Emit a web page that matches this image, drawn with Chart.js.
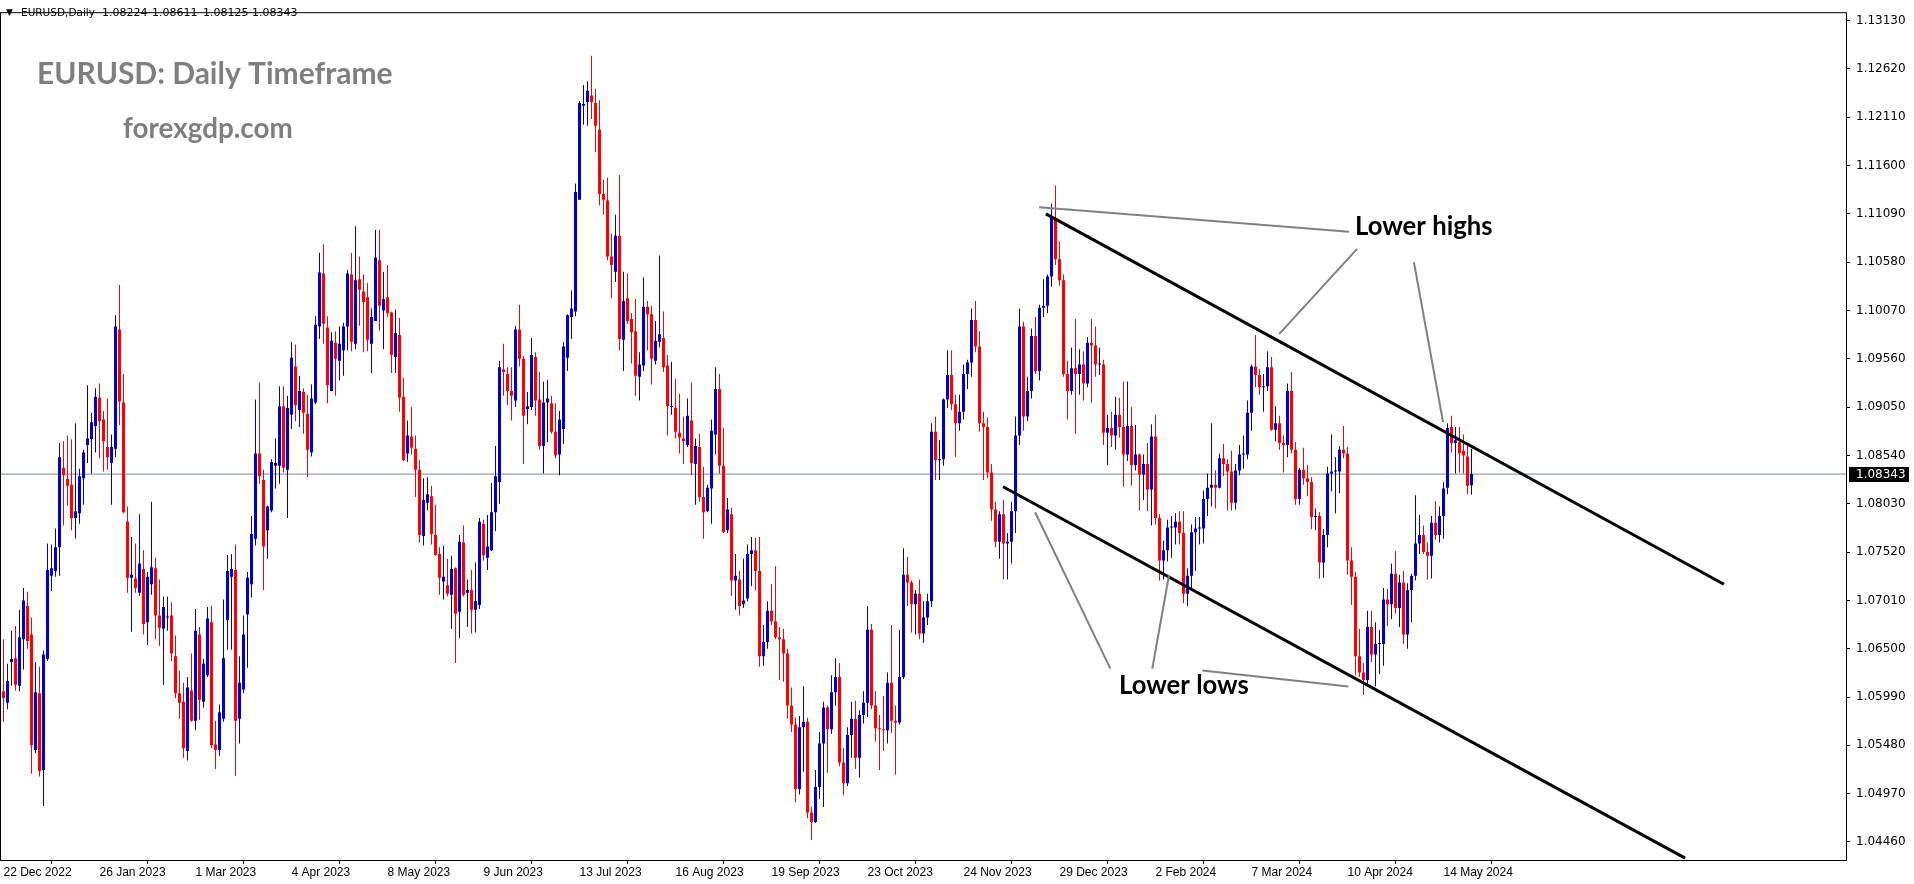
<!DOCTYPE html>
<html>
<head>
<meta charset="utf-8">
<script src="https://cdn.jsdelivr.net/npm/chart.js@4.4.1/dist/chart.umd.min.js"></script>
<style>
  html, body { margin: 0; padding: 0; background: #fff; }
</style>
</head>
<body>
<canvas id="chart" width="1914" height="884"></canvas>
<script>
// EURUSD daily candles, one per bar index (0 = 22 Dec 2022, 367 = 23 May 2024)
const opens = [
  1.0605, 1.0593, 1.0636, 1.0640, 1.0611, 1.0660, 1.0695, 1.0665, 1.0543, 1.0603,
  1.0522, 1.0639, 1.0727, 1.0732, 1.0757, 1.0841, 1.0829, 1.0823, 1.0788, 1.0793,
  1.0830, 1.0865, 1.0871, 1.0885, 1.0915, 1.0892, 1.0863, 1.0846, 1.0861, 1.0987,
  1.0910, 1.0784, 1.0725, 1.0724, 1.0709, 1.0734, 1.0678, 1.0718, 1.0735, 1.0685,
  1.0671, 1.0683, 1.0685, 1.0642, 1.0603, 1.0594, 1.0542, 1.0606, 1.0574, 1.0665,
  1.0594, 1.0622, 1.0678, 1.0549, 1.0543, 1.0576, 1.0680, 1.0726, 1.0733, 1.0576,
  1.0607, 1.0686, 1.0718, 1.0766, 1.0856, 1.0828, 1.0775, 1.0796, 1.0843, 1.0843,
  1.0906, 1.0839, 1.0897, 1.0948, 1.0902, 1.0921, 1.0898, 1.0857, 1.0910, 1.0990,
  1.1046, 1.0989, 1.0922, 1.0973, 1.0954, 1.0965, 1.0990, 1.1045, 1.0972, 1.1040,
  1.1027, 1.1021, 1.0972, 1.0996, 1.1060, 1.1007, 1.1021, 1.1005, 1.0958, 1.0981,
  1.0916, 1.0856, 1.0874, 1.0861, 1.0839, 1.0769, 1.0804, 1.0811, 1.0770, 1.0750,
  1.0721, 1.0717, 1.0707, 1.0735, 1.0689, 1.0762, 1.0709, 1.0712, 1.0691, 1.0696,
  1.0782, 1.0746, 1.0754, 1.0794, 1.0826, 1.0945, 1.0940, 1.0922, 1.0912, 1.0987,
  1.0956, 1.0903, 1.0905, 1.0958, 1.0913, 1.0864, 1.0910, 1.0909, 1.0879, 1.0855,
  1.0882, 1.0957, 1.1000, 1.1006, 1.1124, 1.1223, 1.1227, 1.1234, 1.1226, 1.1198,
  1.1130, 1.1123, 1.1064, 1.1048, 1.1086, 1.0976, 1.1020, 1.0998, 1.0985, 1.0937,
  1.0949, 1.1011, 1.1003, 1.0954, 1.0974, 1.0978, 1.0949, 1.0905, 1.0904, 1.0878,
  1.0872, 1.0865, 1.0891, 1.0845, 1.0863, 1.0810, 1.0795, 1.0819, 1.0876, 1.0924,
  1.0843, 1.0775, 1.0792, 1.0722, 1.0723, 1.0697, 1.0703, 1.0750, 1.0754, 1.0732,
  1.0642, 1.0657, 1.0690, 1.0679, 1.0662, 1.0660, 1.0645, 1.0590, 1.0570, 1.0502,
  1.0567, 1.0573, 1.0477, 1.0467, 1.0504, 1.0550, 1.0588, 1.0565, 1.0604, 1.0620,
  1.0530, 1.0508, 1.0559, 1.0576, 1.0535, 1.0580, 1.0593, 1.0670, 1.0590, 1.0566,
  1.0565, 1.0564, 1.0614, 1.0574, 1.0572, 1.0620, 1.0728, 1.0720, 1.0697, 1.0708,
  1.0666, 1.0683, 1.0700, 1.0879, 1.0849, 1.0850, 1.0913, 1.0939, 1.0908, 1.0888,
  1.0900, 1.0940, 1.0952, 1.0997, 1.0969, 1.0888, 1.0884, 1.0836, 1.0797, 1.0763,
  1.0792, 1.0761, 1.0763, 1.0795, 1.0875, 1.0990, 1.0895, 1.0922, 1.0980, 1.0943,
  1.1010, 1.1012, 1.1043, 1.1105, 1.1061, 1.1039, 1.0940, 1.0922, 1.0946, 1.0940,
  1.0950, 1.0930, 1.0973, 1.0970, 1.0950, 1.0950, 1.0878, 1.0883, 1.0875, 1.0897,
  1.0884, 1.0855, 1.0885, 1.0844, 1.0855, 1.0834, 1.0845, 1.0818, 1.0874, 1.0788,
  1.0743, 1.0754, 1.0778, 1.0778, 1.0784, 1.0772, 1.0708, 1.0727, 1.0773, 1.0777,
  1.0777, 1.0808, 1.0820, 1.0823, 1.0820, 1.0851, 1.0845, 1.0837, 1.0804, 1.0838,
  1.0855, 1.0855, 1.0899, 1.0948, 1.0939, 1.0926, 1.0927, 1.0947, 1.0881, 1.0888,
  1.0867, 1.0865, 1.0922, 1.0860, 1.0808, 1.0839, 1.0830, 1.0826, 1.0789, 1.0790,
  1.0741, 1.0770, 1.0835, 1.0837, 1.0837, 1.0860, 1.0856, 1.0743, 1.0726, 1.0642,
  1.0625, 1.0617, 1.0673, 1.0644, 1.0655, 1.0655, 1.0702, 1.0697, 1.0729, 1.0693,
  1.0720, 1.0665, 1.0712, 1.0727, 1.0761, 1.0770, 1.0752, 1.0748, 1.0783, 1.0770,
  1.0790, 1.0820, 1.0884, 1.0867, 1.0868, 1.0859, 1.0853, 1.08224
];
const highs = [
  1.0660, 1.0634, 1.0669, 1.0674, 1.0691, 1.0714, 1.0710, 1.0683, 1.0636, 1.0631,
  1.0648, 1.0761, 1.0760, 1.0777, 1.0867, 1.0869, 1.0875, 1.0871, 1.0888, 1.0840,
  1.0860, 1.0928, 1.0899, 1.0925, 1.0930, 1.0901, 1.0914, 1.0876, 1.1002, 1.1034,
  1.0940, 1.0800, 1.0768, 1.0761, 1.0792, 1.0754, 1.0731, 1.0805, 1.0746, 1.0723,
  1.0705, 1.0705, 1.0699, 1.0664, 1.0627, 1.0614, 1.0620, 1.0645, 1.0692, 1.0673,
  1.0639, 1.0694, 1.0695, 1.0574, 1.0591, 1.0702, 1.0749, 1.0750, 1.0760, 1.0642,
  1.0685, 1.0731, 1.0790, 1.0913, 1.0931, 1.0839, 1.0801, 1.0850, 1.0872, 1.0927,
  1.0927, 1.0917, 1.0974, 1.0971, 1.0938, 1.0925, 1.0918, 1.0929, 1.1001, 1.1068,
  1.1077, 1.1001, 1.0984, 1.0985, 1.0990, 1.0994, 1.1050, 1.1068, 1.1096, 1.1064,
  1.1045, 1.1036, 1.1009, 1.1092, 1.1092, 1.1048, 1.1055, 1.1006, 1.1008, 1.0999,
  1.0936, 1.0891, 1.0905, 1.0875, 1.0849, 1.0830, 1.0831, 1.0822, 1.0802, 1.0757,
  1.0759, 1.0745, 1.0748, 1.0736, 1.0770, 1.0780, 1.0723, 1.0733, 1.0741, 1.0788,
  1.0786, 1.0791, 1.0825, 1.0864, 1.0954, 1.0972, 1.0947, 1.0947, 1.0991, 1.1013,
  1.0959, 1.0921, 1.0978, 1.0963, 1.0942, 1.0932, 1.0934, 1.0917, 1.0909, 1.0901,
  1.0974, 1.1003, 1.1028, 1.1141, 1.1228, 1.1245, 1.1249, 1.1276, 1.1241, 1.1229,
  1.1145, 1.1147, 1.1088, 1.1108, 1.1150, 1.1048, 1.1046, 1.1004, 1.1019, 1.0963,
  1.1042, 1.1017, 1.1012, 1.0996, 1.1065, 1.1006, 1.0960, 1.0953, 1.0935, 1.0919,
  1.0895, 1.0914, 1.0931, 1.0872, 1.0877, 1.0842, 1.0823, 1.0892, 1.0947, 1.0940,
  1.0883, 1.0809, 1.0799, 1.0750, 1.0732, 1.0745, 1.0760, 1.0768, 1.0767, 1.0768,
  1.0675, 1.0700, 1.0718, 1.0737, 1.0673, 1.0671, 1.0650, 1.0609, 1.0577, 1.0579,
  1.0610, 1.0577, 1.0483, 1.0522, 1.0562, 1.0594, 1.0590, 1.0622, 1.0640, 1.0635,
  1.0545, 1.0567, 1.0594, 1.0595, 1.0585, 1.0605, 1.0695, 1.0676, 1.0605, 1.0580,
  1.0600, 1.0625, 1.0675, 1.0590, 1.0670, 1.0756, 1.0747, 1.0722, 1.0712, 1.0723,
  1.0700, 1.0708, 1.0888, 1.0895, 1.0870, 1.0914, 1.0965, 1.0965, 1.0918, 1.0918,
  1.0950, 1.0955, 1.1009, 1.1017, 1.0985, 1.0900, 1.0894, 1.0845, 1.0805, 1.0795,
  1.0807, 1.0772, 1.0805, 1.0895, 1.1009, 1.0995, 1.0937, 1.0988, 1.1000, 1.1013,
  1.1040, 1.1045, 1.1120, 1.1139, 1.1080, 1.1045, 1.0954, 1.0968, 1.0998, 1.0966,
  1.0964, 1.0979, 1.0998, 1.0990, 1.0968, 1.0955, 1.0897, 1.0900, 1.0916, 1.0915,
  1.0932, 1.0932, 1.0905, 1.0886, 1.0856, 1.0855, 1.0867, 1.0887, 1.0897, 1.0792,
  1.0764, 1.0786, 1.0790, 1.0793, 1.0795, 1.0795, 1.0735, 1.0781, 1.0789, 1.0789,
  1.0817, 1.0835, 1.0888, 1.0838, 1.0856, 1.0866, 1.0850, 1.0859, 1.0845, 1.0865,
  1.0875, 1.0912, 1.0950, 1.0981, 1.0945, 1.0940, 1.0964, 1.0958, 1.0906, 1.0896,
  1.0875, 1.0930, 1.0942, 1.0868, 1.0841, 1.0862, 1.0844, 1.0831, 1.0798, 1.0794,
  1.0776, 1.0842, 1.0876, 1.0852, 1.0864, 1.0885, 1.0863, 1.0757, 1.0731, 1.0671,
  1.0635, 1.0690, 1.0690, 1.0678, 1.0670, 1.0714, 1.0713, 1.0740, 1.0753, 1.0728,
  1.0732, 1.0719, 1.0729, 1.0812, 1.0791, 1.0780, 1.0762, 1.0790, 1.0806, 1.0800,
  1.0826, 1.0888, 1.0896, 1.0884, 1.0884, 1.0876, 1.0865, 1.08611
];
const lows = [
  1.0573, 1.0586, 1.0611, 1.0606, 1.0605, 1.0628, 1.0650, 1.0518, 1.0540, 1.0515,
  1.0484, 1.0637, 1.0711, 1.0726, 1.0727, 1.0780, 1.0801, 1.0775, 1.0766, 1.0782,
  1.0802, 1.0846, 1.0835, 1.0857, 1.0851, 1.0837, 1.0839, 1.0802, 1.0852, 1.0886,
  1.0793, 1.0709, 1.0668, 1.0709, 1.0706, 1.0665, 1.0654, 1.0707, 1.0660, 1.0653,
  1.0612, 1.0669, 1.0637, 1.0598, 1.0576, 1.0535, 1.0532, 1.0573, 1.0564, 1.0575,
  1.0588, 1.0620, 1.0545, 1.0523, 1.0537, 1.0573, 1.0649, 1.0649, 1.0516, 1.0550,
  1.0603, 1.0630, 1.0704, 1.0759, 1.0824, 1.0712, 1.0745, 1.0794, 1.0819, 1.0824,
  1.0836, 1.0788, 1.0882, 1.0890, 1.0884, 1.0877, 1.0831, 1.0853, 1.0908, 1.0977,
  1.0972, 1.0909, 1.0922, 1.0917, 1.0933, 1.0938, 1.0965, 1.0964, 1.0966, 1.0991,
  1.0963, 1.0964, 1.0941, 1.0996, 1.0986, 1.0966, 1.1000, 1.0941, 1.0941, 1.0900,
  1.0848, 1.0847, 1.0855, 1.0810, 1.0762, 1.0759, 1.0796, 1.0760, 1.0748, 1.0707,
  1.0702, 1.0705, 1.0671, 1.0635, 1.0661, 1.0705, 1.0673, 1.0666, 1.0667, 1.0692,
  1.0743, 1.0733, 1.0753, 1.0774, 1.0803, 1.0917, 1.0907, 1.0891, 1.0905, 1.0948,
  1.0845, 1.0887, 1.0902, 1.0896, 1.0860, 1.0835, 1.0868, 1.0877, 1.0851, 1.0833,
  1.0866, 1.0943, 1.0977, 1.1001, 1.1124, 1.1203, 1.1202, 1.1209, 1.1174, 1.1118,
  1.1108, 1.1060, 1.1020, 1.1037, 1.0965, 1.0943, 1.0993, 1.0951, 1.0917, 1.0912,
  1.0943, 1.0965, 1.0929, 1.0950, 1.0968, 1.0942, 1.0875, 1.0897, 1.0872, 1.0856,
  1.0845, 1.0863, 1.0833, 1.0802, 1.0805, 1.0766, 1.0794, 1.0782, 1.0855, 1.0835,
  1.0772, 1.0772, 1.0706, 1.0691, 1.0685, 1.0693, 1.0700, 1.0716, 1.0712, 1.0631,
  1.0632, 1.0650, 1.0675, 1.0660, 1.0617, 1.0615, 1.0576, 1.0562, 1.0488, 1.0496,
  1.0520, 1.0471, 1.0448, 1.0466, 1.0491, 1.0483, 1.0519, 1.0560, 1.0590, 1.0526,
  1.0495, 1.0505, 1.0535, 1.0523, 1.0514, 1.0571, 1.0578, 1.0586, 1.0552, 1.0522,
  1.0542, 1.0550, 1.0561, 1.0517, 1.0570, 1.0618, 1.0695, 1.0667, 1.0665, 1.0660,
  1.0656, 1.0675, 1.0694, 1.0828, 1.0828, 1.0843, 1.0904, 1.0902, 1.0852, 1.0880,
  1.0892, 1.0924, 1.0937, 1.0963, 1.0879, 1.0828, 1.0830, 1.0785, 1.0757, 1.0745,
  1.0723, 1.0723, 1.0740, 1.0772, 1.0865, 1.0880, 1.0890, 1.0914, 1.0940, 1.0933,
  1.1000, 1.1004, 1.1032, 1.1055, 1.1033, 1.0937, 1.0892, 1.0918, 1.0877, 1.0918,
  1.0912, 1.0926, 1.0910, 1.0937, 1.0939, 1.0865, 1.0844, 1.0863, 1.0860, 1.0873,
  1.0821, 1.0848, 1.0822, 1.0838, 1.0796, 1.0807, 1.0795, 1.0780, 1.0781, 1.0722,
  1.0723, 1.0742, 1.0746, 1.0760, 1.0760, 1.0698, 1.0695, 1.0713, 1.0732, 1.0760,
  1.0761, 1.0790, 1.0800, 1.0798, 1.0819, 1.0832, 1.0796, 1.0796, 1.0797, 1.0833,
  1.0840, 1.0850, 1.0880, 1.0926, 1.0918, 1.0900, 1.0922, 1.0880, 1.0869, 1.0860,
  1.0836, 1.0852, 1.0856, 1.0802, 1.0802, 1.0823, 1.0811, 1.0776, 1.0775, 1.0724,
  1.0725, 1.0757, 1.0816, 1.0793, 1.0814, 1.0851, 1.0728, 1.0696, 1.0622, 1.0620,
  1.0601, 1.0610, 1.0636, 1.0610, 1.0623, 1.0632, 1.0674, 1.0681, 1.0687, 1.0673,
  1.0655, 1.0650, 1.0678, 1.0722, 1.0750, 1.0750, 1.0723, 1.0724, 1.0765, 1.0762,
  1.0766, 1.0813, 1.0857, 1.0835, 1.0836, 1.0835, 1.0813, 1.08125
];
const closes = [
  1.0598, 1.0616, 1.0639, 1.0612, 1.0662, 1.0701, 1.0658, 1.0548, 1.0604, 1.0521,
  1.0644, 1.0733, 1.0735, 1.0757, 1.0852, 1.0833, 1.0822, 1.0788, 1.0795, 1.0832,
  1.0857, 1.0872, 1.0889, 1.0916, 1.0890, 1.0869, 1.0852, 1.0863, 1.0990, 1.0911,
  1.0794, 1.0725, 1.0728, 1.0714, 1.0740, 1.0676, 1.0726, 1.0736, 1.0685, 1.0672,
  1.0694, 1.0684, 1.0645, 1.0603, 1.0593, 1.0545, 1.0609, 1.0574, 1.0669, 1.0596,
  1.0634, 1.0682, 1.0548, 1.0543, 1.0583, 1.0640, 1.0732, 1.0734, 1.0574, 1.0614,
  1.0665, 1.0725, 1.0771, 1.0856, 1.0832, 1.0758, 1.0800, 1.0847, 1.0846, 1.0906,
  1.0841, 1.0904, 1.0957, 1.0907, 1.0922, 1.0899, 1.0860, 1.0914, 1.0992, 1.1047,
  1.0993, 1.0928, 1.0975, 1.0956, 1.0972, 1.0990, 1.1046, 1.0974, 1.1039, 1.1029,
  1.1016, 1.0976, 1.1000, 1.1063, 1.1012, 1.1019, 1.1004, 1.0960, 1.0983, 1.0915,
  1.0849, 1.0875, 1.0862, 1.0839, 1.0770, 1.0807, 1.0813, 1.0771, 1.0749, 1.0725,
  1.0726, 1.0708, 1.0734, 1.0687, 1.0763, 1.0707, 1.0712, 1.0691, 1.0700, 1.0784,
  1.0749, 1.0758, 1.0794, 1.0832, 1.0947, 1.0942, 1.0922, 1.0917, 1.0987, 1.0956,
  1.0896, 1.0906, 1.0960, 1.0912, 1.0864, 1.0910, 1.0914, 1.0879, 1.0854, 1.0892,
  1.0969, 1.1002, 1.1009, 1.1132, 1.1226, 1.1225, 1.1239, 1.1227, 1.1202, 1.1130,
  1.1124, 1.1064, 1.1055, 1.1086, 1.0977, 1.1017, 1.0996, 1.0984, 1.0938, 1.0950,
  1.1011, 1.1003, 1.0956, 1.0975, 1.0982, 1.0947, 1.0906, 1.0906, 1.0879, 1.0873,
  1.0869, 1.0896, 1.0846, 1.0864, 1.0810, 1.0794, 1.0820, 1.0880, 1.0924, 1.0843,
  1.0773, 1.0797, 1.0722, 1.0727, 1.0695, 1.0701, 1.0750, 1.0754, 1.0732, 1.0642,
  1.0657, 1.0690, 1.0679, 1.0662, 1.0660, 1.0645, 1.0590, 1.0570, 1.0502, 1.0567,
  1.0573, 1.0477, 1.0467, 1.0504, 1.0550, 1.0588, 1.0565, 1.0604, 1.0620, 1.0530,
  1.0508, 1.0559, 1.0576, 1.0535, 1.0580, 1.0593, 1.0670, 1.0590, 1.0566, 1.0565,
  1.0564, 1.0614, 1.0574, 1.0572, 1.0620, 1.0728, 1.0720, 1.0697, 1.0708, 1.0666,
  1.0683, 1.0700, 1.0879, 1.0849, 1.0850, 1.0913, 1.0939, 1.0908, 1.0888, 1.0900,
  1.0940, 1.0952, 1.0997, 1.0969, 1.0888, 1.0884, 1.0836, 1.0797, 1.0763, 1.0792,
  1.0761, 1.0763, 1.0795, 1.0875, 1.0990, 1.0895, 1.0922, 1.0980, 1.0943, 1.1010,
  1.1012, 1.1043, 1.1105, 1.1061, 1.1039, 1.0940, 1.0922, 1.0946, 1.0940, 1.0950,
  1.0930, 1.0973, 1.0970, 1.0950, 1.0950, 1.0878, 1.0883, 1.0875, 1.0897, 1.0884,
  1.0855, 1.0885, 1.0844, 1.0855, 1.0834, 1.0845, 1.0818, 1.0874, 1.0788, 1.0743,
  1.0754, 1.0778, 1.0778, 1.0784, 1.0772, 1.0708, 1.0727, 1.0773, 1.0777, 1.0777,
  1.0808, 1.0820, 1.0823, 1.0820, 1.0851, 1.0845, 1.0837, 1.0804, 1.0838, 1.0855,
  1.0855, 1.0899, 1.0948, 1.0939, 1.0926, 1.0927, 1.0947, 1.0881, 1.0888, 1.0867,
  1.0865, 1.0922, 1.0860, 1.0808, 1.0839, 1.0830, 1.0826, 1.0789, 1.0790, 1.0741,
  1.0770, 1.0835, 1.0837, 1.0837, 1.0860, 1.0856, 1.0743, 1.0726, 1.0642, 1.0625,
  1.0617, 1.0673, 1.0644, 1.0655, 1.0655, 1.0702, 1.0697, 1.0729, 1.0693, 1.0720,
  1.0665, 1.0712, 1.0727, 1.0761, 1.0770, 1.0752, 1.0748, 1.0783, 1.0770, 1.0790,
  1.0819, 1.0883, 1.0867, 1.0870, 1.0856, 1.0854, 1.0822, 1.08343
];

// one date label every 24 bars
const dateLabels = [
  '22 Dec 2022', '26 Jan 2023', '1 Mar 2023', '4 Apr 2023', '8 May 2023', '9 Jun 2023',
  '13 Jul 2023', '16 Aug 2023', '19 Sep 2023', '23 Oct 2023', '24 Nov 2023', '29 Dec 2023',
  '2 Feb 2024', '7 Mar 2024', '10 Apr 2024', '14 May 2024'
];
const priceTicks = [
  1.13130, 1.12620, 1.12110, 1.11600, 1.11090, 1.10580, 1.10070, 1.09560, 1.09050,
  1.08540, 1.08030, 1.07520, 1.07010, 1.06500, 1.05990, 1.05480, 1.04970, 1.04460
];
const lastQuote = [1.08224, 1.08611, 1.08125, 1.08343]; // O H L C shown in the header
const bidPrice = 1.08343;

// drawn trend lines: [bar index, price]
const upperChannel = [[260.6, 1.1109], [430.1, 1.0718]];
const lowerChannel = [[249.9, 1.0821], [420.4, 1.0429]];
const highPointers = [
  [[258.9, 1.1116], [336.4, 1.1090]],
  [[338.4, 1.1072], [318.9, 1.0982]],
  [[352.6, 1.1058], [359.9, 1.0889]]
];
const lowPointers = [
  [[276.7, 1.0629], [257.9, 1.0794]],
  [[287.2, 1.0629], [291.4, 1.0728]],
  [[299.7, 1.0627], [336.2, 1.0610]]
];

const BULL = '#0000cd';
const BEAR = '#ff0000';
const colors = closes.map((c, i) => c >= opens[i] ? BULL : BEAR);
const wickData = closes.map((c, i) => ({ x: i, y: [lows[i], highs[i]] }));
const bodyData = closes.map((c, i) => ({ x: i, y: [Math.min(opens[i], c), Math.max(opens[i], c)] }));
const toPts = seg => seg.map(p => ({ x: p[0], y: p[1] }));

const X_MIN = -0.875;
const X_MAX = X_MIN + 1846 / 4;

function lineSet(seg, color, width, order) {
  return {
    type: 'line', data: toPts(seg), borderColor: color, borderWidth: width,
    pointRadius: 0, fill: false, order: order, tension: 0
  };
}

const datasets = [
  lineSet([[X_MIN, bidPrice], [X_MAX, bidPrice]], '#778899', 1, 9),
  {
    type: 'bar', data: wickData, backgroundColor: colors, barThickness: 1,
    grouped: false, inflateAmount: 0, borderWidth: 0, order: 8
  },
  {
    type: 'bar', data: bodyData, backgroundColor: colors, barThickness: 3,
    grouped: false, inflateAmount: 0, borderWidth: 0, minBarLength: 1, order: 7
  },
  lineSet(upperChannel, '#000', 3, 2),
  lineSet(lowerChannel, '#000', 3, 2)
];
highPointers.concat(lowPointers).forEach(seg => datasets.push(lineSet(seg, '#808080', 2, 1)));

const overlay = {
  id: 'overlay',
  afterDatasetsDraw(chart) {
    const ctx = chart.ctx;
    ctx.save();
    ctx.textBaseline = 'alphabetic';
    ctx.textAlign = 'left';
    ctx.fillStyle = '#7f7f7f';
    ctx.font = 'bold 30px Lato';
    ctx.fillText('EURUSD: Daily Timeframe', 37, 84);
    ctx.font = 'bold 27.8px Lato';
    ctx.fillText('forexgdp.com', 123, 138);
    ctx.fillStyle = '#000';
    ctx.font = 'bold 25.7px Lato';
    ctx.fillText('Lower highs', 1355, 235);
    ctx.fillText('Lower lows', 1119, 694);
    ctx.restore();
  },
  afterDraw(chart) {
    const ctx = chart.ctx;
    const a = chart.chartArea;
    ctx.save();
    ctx.strokeStyle = '#000';
    ctx.lineWidth = 1;
    ctx.strokeRect(a.left + 0.5, a.top - 0.5, a.right - a.left, a.bottom - a.top + 1);
    // header line
    ctx.fillStyle = '#000';
    ctx.textBaseline = 'middle';
    ctx.font = '9px "DejaVu Sans"';
    ctx.fillText('\u25BC', 6, 13);
    ctx.font = '10.5px "DejaVu Sans"';
    ctx.fillText('EURUSD,Daily', 21, 13);
    ctx.font = '11px "DejaVu Sans"';
    const xs = [102, 152, 203, 252];
    lastQuote.forEach((v, k) => ctx.fillText(v.toFixed(5), xs[k], 13));
    // bid label on the price axis
    const y = Math.round(chart.scales.y.getPixelForValue(bidPrice));
    ctx.fillStyle = '#000';
    ctx.fillRect(a.right + 3, y - 7, 60, 15);
    ctx.fillStyle = '#fff';
    ctx.font = '12px "DejaVu Sans"';
    ctx.fillText(bidPrice.toFixed(5), a.right + 10, y + 0.5);
    ctx.restore();
  }
};

new Chart(document.getElementById('chart'), {
  type: 'bar',
  data: { datasets: datasets },
  options: {
    responsive: false,
    animation: false,
    devicePixelRatio: 1,
    layout: { padding: { left: 0, top: 1, right: 0, bottom: 0 } },
    plugins: { legend: { display: false }, tooltip: { enabled: false } },
    scales: {
      x: {
        type: 'linear', min: X_MIN, max: X_MAX, offset: false,
        afterFit(scale) { scale.height = 24; },
        afterBuildTicks(scale) { scale.ticks = dateLabels.map((d, k) => ({ value: k * 24 })); },
        ticks: {
          callback: v => dateLabels[Math.round(v / 24)],
          align: 'start', maxRotation: 0, autoSkip: false, padding: 1,
          color: '#000', font: { family: 'Liberation Sans', size: 12 }
        },
        grid: { drawOnChartArea: false, drawTicks: true, tickLength: 4, color: '#000' },
        border: { display: false }
      },
      y: {
        position: 'right', min: 1.042695, max: 1.132081,
        afterFit(scale) { scale.width = 68; },
        afterBuildTicks(scale) { scale.ticks = priceTicks.map(v => ({ value: v })); },
        ticks: {
          callback: v => v.toFixed(5), padding: 6,
          color: '#000', font: { family: 'DejaVu Sans', size: 12 }
        },
        grid: { drawOnChartArea: false, drawTicks: true, tickLength: 4, color: '#000' },
        border: { display: false }
      }
    }
  },
  plugins: [overlay]
});
</script>
</body>
</html>
